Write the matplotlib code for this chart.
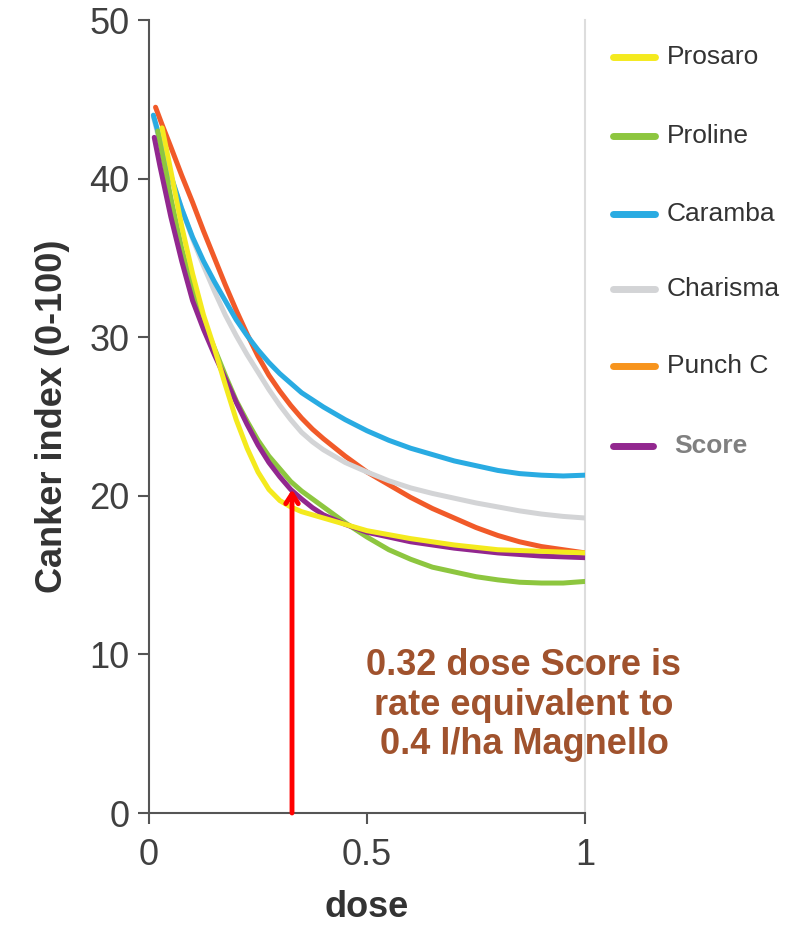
import matplotlib
matplotlib.use("Agg")
import matplotlib.pyplot as plt
from matplotlib.lines import Line2D

plt.rcParams['font.family'] = ['Liberation Sans', 'DejaVu Sans']

# ---- data ----
series_names = ["Prosaro", "Proline", "Caramba", "Charisma", "Punch C", "Score"]

dose_prosaro = [0.03, 0.05, 0.075, 0.1, 0.125, 0.15, 0.175, 0.2, 0.225, 0.25, 0.275, 0.3,
                0.325, 0.35, 0.4, 0.45, 0.5, 0.6, 0.7, 0.8, 0.9, 1.0]
prosaro      = [43.2, 40.5, 37.0, 34.0, 31.4, 29.3, 27.0, 24.8, 23.0, 21.5, 20.4, 19.7,
                19.3, 19.0, 18.6, 18.2, 17.8, 17.3, 16.9, 16.6, 16.5, 16.4]

dose_proline = [0.02, 0.05, 0.075, 0.1, 0.125, 0.15, 0.175, 0.2, 0.225, 0.25, 0.275, 0.3,
                0.325, 0.35, 0.375, 0.4, 0.45, 0.5, 0.55, 0.6, 0.65, 0.7, 0.75, 0.8,
                0.85, 0.9, 0.95, 1.0]
proline      = [43.0, 38.8, 35.6, 33.0, 31.0, 29.3, 27.6, 26.0, 24.7, 23.5, 22.5, 21.7,
                20.9, 20.3, 19.8, 19.3, 18.3, 17.4, 16.6, 16.0, 15.5, 15.2, 14.9, 14.7,
                14.55, 14.5, 14.5, 14.6]

dose_caramba = [0.01, 0.025, 0.05, 0.075, 0.1, 0.125, 0.15, 0.175, 0.2, 0.225, 0.25, 0.275,
                0.3, 0.35, 0.4, 0.45, 0.5, 0.55, 0.6, 0.65, 0.7, 0.75, 0.8, 0.85, 0.9,
                0.95, 1.0]
caramba      = [44.0, 42.5, 40.2, 38.1, 36.3, 34.8, 33.5, 32.3, 31.1, 30.1, 29.2, 28.4,
                27.7, 26.5, 25.6, 24.8, 24.1, 23.5, 23.0, 22.6, 22.2, 21.9, 21.6, 21.4, 21.3,
                21.25, 21.3]

dose_charisma = [0.01, 0.025, 0.05, 0.075, 0.1, 0.125, 0.15, 0.175, 0.2, 0.225, 0.25, 0.275,
                 0.3, 0.325, 0.35, 0.375, 0.4, 0.45, 0.5, 0.55, 0.6, 0.65, 0.7, 0.75, 0.8,
                 0.85, 0.9, 0.95, 1.0]
charisma      = [43.9, 42.3, 40.1, 38.1, 36.2, 34.5, 32.9, 31.4, 30.1, 28.9, 27.8, 26.7,
                 25.7, 24.8, 24.0, 23.4, 22.9, 22.1, 21.5, 20.95, 20.5, 20.15, 19.85, 19.55,
                 19.3, 19.05, 18.85, 18.7, 18.6]

dose_punch = [0.015, 0.03, 0.05, 0.075, 0.1, 0.125, 0.15, 0.175, 0.2, 0.225, 0.25, 0.275,
              0.3, 0.325, 0.35, 0.375, 0.4, 0.45, 0.5, 0.55, 0.6, 0.65, 0.7, 0.75, 0.8,
              0.85, 0.9, 0.95, 1.0]
punch      = [44.5, 43.4, 42.0, 40.2, 38.5, 36.7, 35.0, 33.3, 31.7, 30.2, 28.8, 27.6,
              26.6, 25.7, 24.9, 24.2, 23.6, 22.5, 21.5, 20.7, 19.9, 19.2, 18.6, 18.0, 17.5,
              17.1, 16.8, 16.6, 16.4]

dose_score = [0.012, 0.025, 0.05, 0.075, 0.1, 0.125, 0.15, 0.175, 0.2, 0.225, 0.25, 0.275,
              0.3, 0.325, 0.35, 0.375, 0.4, 0.45, 0.5, 0.55, 0.6, 0.7, 0.8, 0.9, 1.0]
score      = [42.6, 40.8, 37.6, 34.8, 32.3, 30.5, 28.9, 27.4, 25.9, 24.5, 23.2, 22.1,
              21.2, 20.4, 19.8, 19.25, 18.8, 18.2, 17.7, 17.4, 17.1, 16.7, 16.4, 16.2, 16.1]

x_ticks = [0, 0.5, 1]
x_tick_labels = ["0", "0.5", "1"]
y_ticks = [0, 10, 20, 30, 40, 50]

arrow_dose = 0.328
arrow_top = 20.4

annotation_lines = ["0.32 dose Score is", "rate equivalent to", "0.4 l/ha Magnello"]

# ---- styles ----
line_colors = {"Prosaro": "#F4EA1E", "Proline": "#8DC63F", "Caramba": "#29ABE2",
               "Charisma": "#D3D4D6", "Punch C": "#F15A29", "Score": "#92278F"}
legend_colors = {"Prosaro": "#F4EA1E", "Proline": "#8DC63F", "Caramba": "#29ABE2",
                 "Charisma": "#D3D4D6", "Punch C": "#F7941D", "Score": "#92278F"}

W, H = 795, 930
fig = plt.figure(figsize=(W / 100, H / 100), dpi=100)
ax = fig.add_axes([149 / W, (H - 813) / H, 436 / W, 793 / H])

lw = 3.6
draw = [("Punch C", dose_punch, punch), ("Charisma", dose_charisma, charisma),
        ("Caramba", dose_caramba, caramba), ("Proline", dose_proline, proline),
        ("Score", dose_score, score), ("Prosaro", dose_prosaro, prosaro)]
for name, xs, ys in draw:
    ax.plot(xs, ys, color=line_colors[name], lw=lw, solid_capstyle='round',
            solid_joinstyle='round', zorder=3)

ax.set_xlim(0, 1)
ax.set_ylim(0, 50)
ax.set_xticks(x_ticks)
ax.set_xticklabels(x_tick_labels)
ax.set_yticks(y_ticks)
ax.tick_params(axis='both', direction='out', length=8, width=1.5, color='#555555',
               labelsize=26, labelcolor='#404040')
ax.tick_params(axis='x', pad=10)
ax.tick_params(axis='y', pad=6)
for s in ['left', 'bottom']:
    ax.spines[s].set_color('#555555')
    ax.spines[s].set_linewidth(1.5)
ax.spines['top'].set_visible(False)
ax.spines['right'].set_color('#DDDDDD')
ax.spines['right'].set_linewidth(1.5)

ax.set_xlabel("dose", fontsize=26, fontweight='bold', color='#333333', labelpad=12)
ax.set_ylabel("Canker index (0-100)", fontsize=26, fontweight='bold', color='#333333', labelpad=14)

# arrow
ax.annotate("", xy=(arrow_dose, arrow_top), xytext=(arrow_dose, 0),
            arrowprops=dict(arrowstyle='->,head_length=0.7,head_width=0.45',
                            color='#FF0000', lw=3.5, shrinkA=0, shrinkB=0),
            zorder=5)

# annotation text
fig.text(524 / W, 1 - 705 / H, "\n".join(annotation_lines), ha='center', va='center',
         fontsize=26, fontweight='bold', color='#A0522D', linespacing=1.16, zorder=6)

# legend (manual)
legend_rows = [57, 136, 214, 289, 366, 446]
for name, ry in zip(series_names, legend_rows):
    yf = 1 - ry / H
    x1 = 655 / W if name != "Score" else 653 / W
    fig.add_artist(Line2D([613 / W, x1], [yf, yf], color=legend_colors[name], lw=5,
                          solid_capstyle='round', transform=fig.transFigure))
    if name == "Score":
        fig.text(674 / W, yf, name, ha='left', va='center', fontsize=19,
                 fontweight='bold', color='#808080')
    else:
        fig.text(667 / W, yf, name, ha='left', va='center', fontsize=19, color='#333333')

fig.savefig("out.png", dpi=100)
